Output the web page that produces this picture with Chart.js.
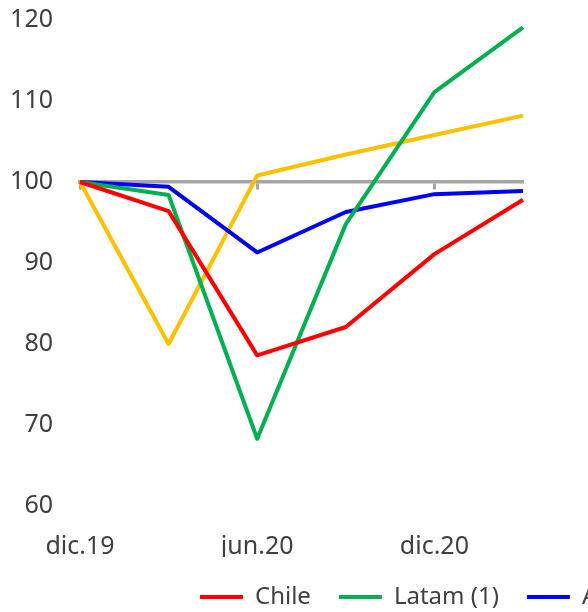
<!DOCTYPE html>
<html>
<head>
<meta charset="utf-8">
<script src="https://cdn.jsdelivr.net/npm/chart.js@4/dist/chart.umd.min.js"></script>
<style>
  html, body { margin: 0; padding: 0; background: #ffffff; overflow: hidden; }
  #wrap { position: relative; height: 619px; }
</style>
</head>
<body>
<div id="wrap"><canvas id="chart"></canvas></div>
<script>
// Quarterly index, dic.19 = 100
const categories = ['dic.19', 'mar.20', 'jun.20', 'sep.20', 'dic.20', 'mar.21'];
const seriesNames = ['Chile', 'Latam (1)', 'Avanzadas (2)', 'China'];
const chile     = [100, 96.4, 78.6, 82.1, 91.1, 97.8];
const latam     = [100, 98.4, 68.3, 94.8, 111.1, 119.1];
const avanzadas = [100, 99.4, 91.3, 96.3, 98.5, 98.9];
const china     = [100, 80.0, 100.8, 103.4, 105.8, 108.2];
const yMin = 60, yMax = 120, yStep = 10;
const baseValue = 100;

const textColor = '#404040';
const axisGray = '#A6A6A6';
const clear = 'rgba(0,0,0,0)';
const fontFamily = "'Noto Sans', 'Open Sans', sans-serif";

// Legend geometry: the row is centred on the full canvas, which is wider than the view
const legendFontSize = 24, legendPad = 28, legendLine = 43, legendStart = 200;
const mctx = document.createElement('canvas').getContext('2d');
mctx.font = legendFontSize + 'px ' + fontFamily;
const rowWidth = seriesNames.reduce(
  (s, n) => s + legendLine + legendFontSize / 2 + mctx.measureText(n).width + legendPad, 0);
const W = Math.round(2 * legendStart + rowWidth - legendPad);
const plotRight = 523;
document.getElementById('wrap').style.width = W + 'px';

const colors = ['#FF0000', '#00B050', '#0000FF', '#FFC000'];
const values = [chile, latam, avanzadas, china];

new Chart(document.getElementById('chart'), {
  type: 'line',
  data: {
    labels: categories,
    datasets: values.map((v, i) => ({
      label: seriesNames[i],
      data: v,
      borderColor: colors[i],
      backgroundColor: colors[i],
      borderWidth: 4,
      borderJoinStyle: 'round',
      pointRadius: 0,
      pointHoverRadius: 0,
      tension: 0,
      fill: false
    }))
  },
  options: {
    responsive: true,
    maintainAspectRatio: false,
    animation: false,
    events: [],
    layout: { padding: { top: 20, left: 0, right: 0, bottom: 0 } },
    plugins: {
      tooltip: { enabled: false },
      legend: {
        position: 'bottom',
        align: 'center',
        labels: {
          usePointStyle: true,
          pointStyle: 'line',
          pointStyleWidth: legendLine,
          padding: legendPad,
          color: textColor,
          font: { family: fontFamily, size: legendFontSize }
        }
      }
    },
    scales: {
      x: {
        type: 'category',
        position: 'bottom',
        offset: false,
        grid: { display: false, drawTicks: false },
        border: { display: false },
        ticks: {
          autoSkip: false,
          maxRotation: 0,
          padding: 26,
          color: textColor,
          font: { family: fontFamily, size: 25 },
          callback: function (val, idx) { return idx % 2 === 0 ? categories[idx] : ''; }
        },
        afterFit: function (scale) { scale.height = 51; }
      },
      // horizontal base line at 100 with tick marks every second quarter
      xBase: {
        type: 'category',
        labels: categories,
        position: { y: baseValue },
        offset: false,
        grid: {
          display: true,
          drawOnChartArea: false,
          drawTicks: true,
          tickLength: 6,
          tickWidth: 3,
          color: (ctx) => (ctx.index % 2 === 0 ? axisGray : clear)
        },
        border: { display: true, color: axisGray, width: 3.5 },
        ticks: { display: false, autoSkip: false }
      },
      y: {
        type: 'linear',
        position: 'left',
        min: yMin,
        max: yMax,
        // invisible tick marks keep the labels clear of the plot
        grid: { display: true, drawOnChartArea: false, drawTicks: true, tickLength: 27, color: clear },
        border: { display: false },
        ticks: {
          stepSize: yStep,
          padding: 0,
          color: textColor,
          font: { family: fontFamily, size: 25 }
        },
        afterFit: function (scale) { scale.width = 80; }
      },
      yRight: {
        type: 'linear',
        position: 'right',
        display: true,
        grid: { display: false, drawTicks: false },
        border: { display: false },
        ticks: { display: false },
        afterFit: function (scale) { scale.width = W - plotRight; }
      }
    }
  }
});
</script>
</body>
</html>
